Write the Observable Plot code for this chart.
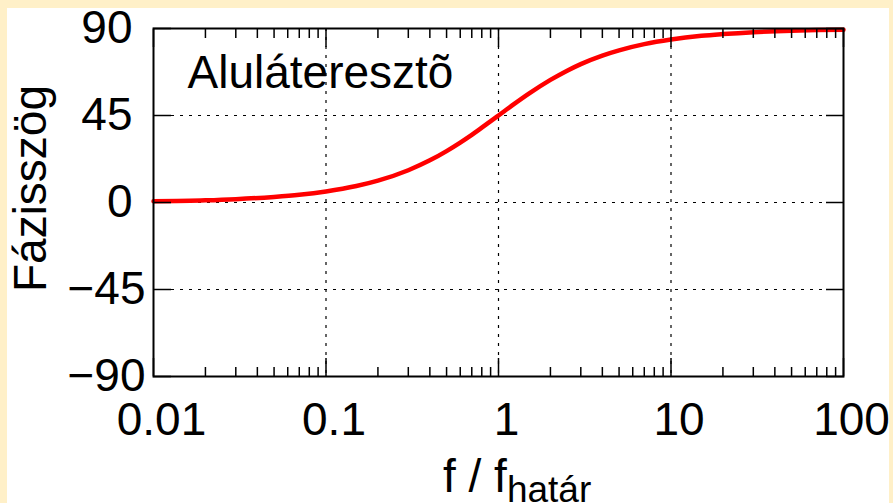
<!DOCTYPE html>
<html>
<head>
<meta charset="utf-8">
<script src="https://cdn.jsdelivr.net/npm/d3@7"></script>
<script src="https://cdn.jsdelivr.net/npm/@observablehq/plot@0.6"></script>
<style>
  html, body { margin: 0; padding: 0; background: #FFF0C8; width: 893px; height: 503px; overflow: hidden; }
  #card { position: absolute; left: 7px; top: 8px; width: 882px; height: 495px; background: #ffffff; overflow: hidden; }
</style>
</head>
<body>
<div id="card"></div>
<script>
// ---- data ----
const freq  = [0.01, 0.02, 0.03, 0.05, 0.07, 0.1, 0.15, 0.2, 0.3, 0.4, 0.5, 0.6, 0.7, 0.8, 1, 1.2, 1.5, 2, 2.5, 3, 4, 5, 7, 10, 15, 20, 30, 50, 70, 100];
const phase = [0.6, 1.1, 1.7, 2.9, 4.0, 5.7, 8.5, 11.3, 16.7, 21.8, 26.6, 31.0, 35.0, 38.7, 45.0, 50.2, 56.3, 63.4, 68.2, 71.6, 76.0, 78.7, 81.9, 84.3, 86.2, 87.1, 88.1, 88.9, 89.2, 89.4];

const xTicks = [0.01, 0.1, 1, 10, 100];
const xTickLabels = ["0.01", "0.1", "1", "10", "100"];
const xGridTicks = [0.1, 1, 10];
const yTicksPos = [90, 45, 0];
const yTicksNeg = [-45, -90];
const yTickLabels = {"90": "90", "45": "45", "0": "0", "-45": "\u221245", "-90": "\u221290"};
const yGridTicks = [45, 0, -45];
const seriesLabel = "Alulátereszt\u00f5";
const yLabel = "Fázisszög";
const xLabelMain = "f / f";
const xLabelSub = "határ";

const xMinor = [];
for (const d of [0.01, 0.1, 1, 10]) for (let m = 2; m <= 9; m++) xMinor.push(+(d * m).toPrecision(3));

const points = freq.map((f, i) => ({f, p: phase[i]}));

const FONT = "'Liberation Sans', Arial, Helvetica, sans-serif";
const tickOpts = {tickFormat: () => "", strokeWidth: 1.5, label: null};

const plot = Plot.plot({
  width: 900,
  height: 495,
  marginLeft: 146,
  marginRight: 64,
  marginTop: 20,
  marginBottom: 127,
  x: {type: "log", domain: [0.01, 100], axis: null},
  y: {domain: [-90, 90], axis: null},
  style: {fontFamily: FONT, fontSize: "46px", color: "black", background: "transparent", maxWidth: "none", overflow: "visible"},
  marks: [
    Plot.gridX(xGridTicks, {stroke: "black", strokeOpacity: 1, strokeWidth: 1.2, strokeDasharray: "3,6"}),
    Plot.gridY(yGridTicks, {stroke: "black", strokeOpacity: 1, strokeWidth: 1.2, strokeDasharray: "3,6"}),
    Plot.line(points, {x: "f", y: "p", stroke: "#ff0000", strokeWidth: 4.5, curve: "monotone-x"}),
    Plot.frame({stroke: "black", strokeWidth: 2}),
    // inward major/minor ticks on all sides
    Plot.axisX(xTicks, {anchor: "bottom", tickSize: -18, ...tickOpts}),
    Plot.axisX(xMinor, {anchor: "bottom", tickSize: -9, ...tickOpts}),
    Plot.axisX(xTicks, {anchor: "top", tickSize: -18, ...tickOpts}),
    Plot.axisX(xMinor, {anchor: "top", tickSize: -9, ...tickOpts}),
    Plot.axisY([...yTicksPos, ...yTicksNeg], {anchor: "left", tickSize: -18, ...tickOpts}),
    Plot.axisY([...yTicksPos, ...yTicksNeg], {anchor: "right", tickSize: -18, ...tickOpts}),
    // tick labels
    Plot.axisX(xTicks, {anchor: "bottom", tickSize: 0, tickPadding: 26, dx: 8, fontSize: 46, label: null,
      tickFormat: d => xTickLabels[xTicks.indexOf(d)]}),
    Plot.axisY(yTicksPos, {anchor: "left", tickSize: 0, tickPadding: 21, fontSize: 46, label: null,
      tickFormat: d => yTickLabels[String(d)]}),
    Plot.axisY(yTicksNeg, {anchor: "left", tickSize: 0, tickPadding: 8, fontSize: 46, label: null,
      tickFormat: d => yTickLabels[String(d)]}),
    // labels
    Plot.text([yLabel], {text: d => d, frameAnchor: "left", rotate: -90, textAnchor: "middle", lineAnchor: "bottom",
      dx: -108, dy: -14, fontSize: 46, fill: "black"}),
    Plot.text([seriesLabel], {text: d => d, frameAnchor: "top-left", textAnchor: "start", lineAnchor: "bottom",
      dx: 34, dy: 59, fontSize: 46, fill: "black"})
  ]
});

// x-axis label with subscript
const svg = d3.select(plot);
const xl = svg.append("text")
  .attr("x", 436).attr("y", 484)
  .attr("text-anchor", "start")
  .attr("font-family", FONT).attr("font-size", 46).attr("fill", "black");
xl.append("tspan").text(xLabelMain);
xl.append("tspan").attr("font-size", 37).attr("dy", 10).text(xLabelSub);

document.getElementById("card").appendChild(plot);
</script>
</body>
</html>
